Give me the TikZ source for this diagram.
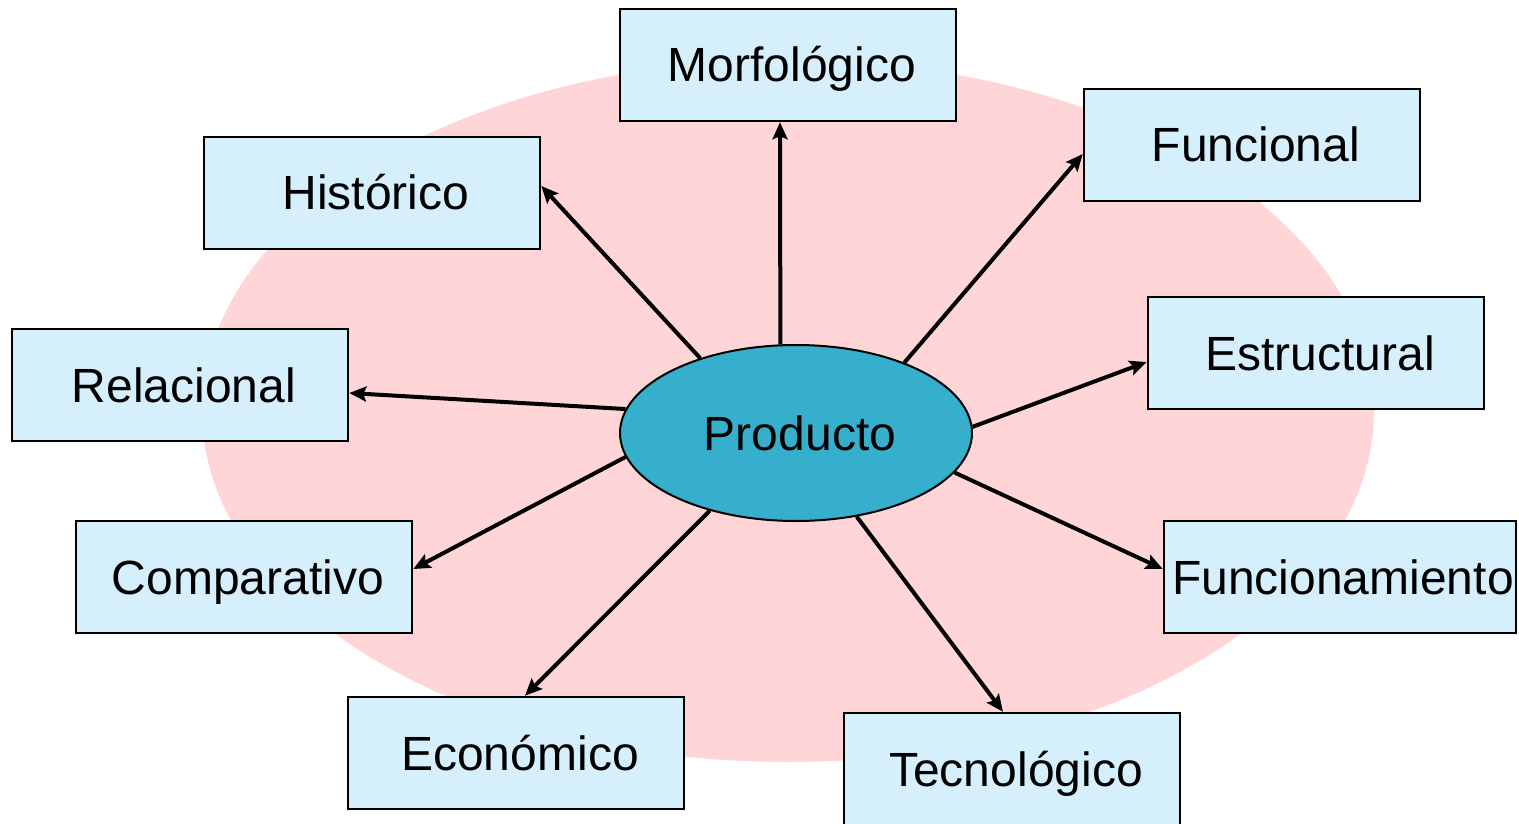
\documentclass[tikz,border=0pt]{standalone}
\usepackage{fontspec}
\setmainfont{Liberation Sans}
\usetikzlibrary{arrows.meta,shapes.geometric}
\definecolor{pinkbg}{HTML}{FFD5D7}
\definecolor{boxfill}{HTML}{D5EFFD}
\definecolor{prodfill}{HTML}{35AFCB}
\tikzset{
  lbl/.style={font=\fontsize{48}{56}\selectfont, text height=34pt, text depth=0pt, inner sep=0pt},
  box/.style={lbl, draw=black, line width=2.5pt, fill=boxfill, rectangle, minimum width=336pt, minimum height=112pt},
  arr/.style={line width=4pt, -{Stealth[length=17pt,width=15pt,inset=3pt]}},
}
\begin{document}
\begin{tikzpicture}[x=1pt,y=-1pt]
\useasboundingbox (0,0) rectangle (1519,824);
\begin{scope}
\clip (0,0) rectangle (1519,824);
\fill[pinkbg] (788,411) ellipse [x radius=586, y radius=351];
\node[lbl, draw=black, line width=2pt, fill=prodfill, ellipse, minimum width=352pt, minimum height=176pt] (prod) at (796,433) {\hspace*{8pt}Producto};
\node[box] (morf) at (788,65) {\hspace*{8pt}Morfológico};
\node[box] (hist) at (372,193) {\hspace*{8pt}Histórico};
\node[box] (func) at (1252,145) {\hspace*{8pt}Funcional};
\node[box] (rel) at (180,385) {\hspace*{8pt}Relacional};
\node[box] (estr) at (1316,353) {\hspace*{8pt}Estructural};
\node[box] (comp) at (244,577) {\hspace*{8pt}Comparativo};
\node[box, minimum width=352pt] (funm) at (1340,577) {\hspace*{6pt}Funcionamiento};
\node[box] (econ) at (516,753) {\hspace*{8pt}Económico};
\node[box] (tecn) at (1012,769) {\hspace*{8pt}Tecnológico};
\draw[arr] (prod.100.3) -- ([xshift=-8pt]morf.south);
\draw[arr] (prod.142.6) -- ([yshift=7pt]hist.east);
\draw[arr] (prod.33.1) -- ([yshift=-9pt]func.west);
\draw[arr] (prod.172.3) -- ([yshift=-8pt]rel.east);
\draw[arr] (prod.2.6) -- ([yshift=-9pt]estr.west);
\draw[arr] (prod.188.1) -- ([yshift=8pt]comp.east);
\draw[arr] (prod.-14.4) -- ([yshift=8pt]funm.west);
\draw[arr] (prod.222.4) -- ([xshift=9pt]econ.north);
\draw[arr] (prod.-54) -- ([xshift=-9pt]tecn.north);
\end{scope}
\end{tikzpicture}
\end{document}
